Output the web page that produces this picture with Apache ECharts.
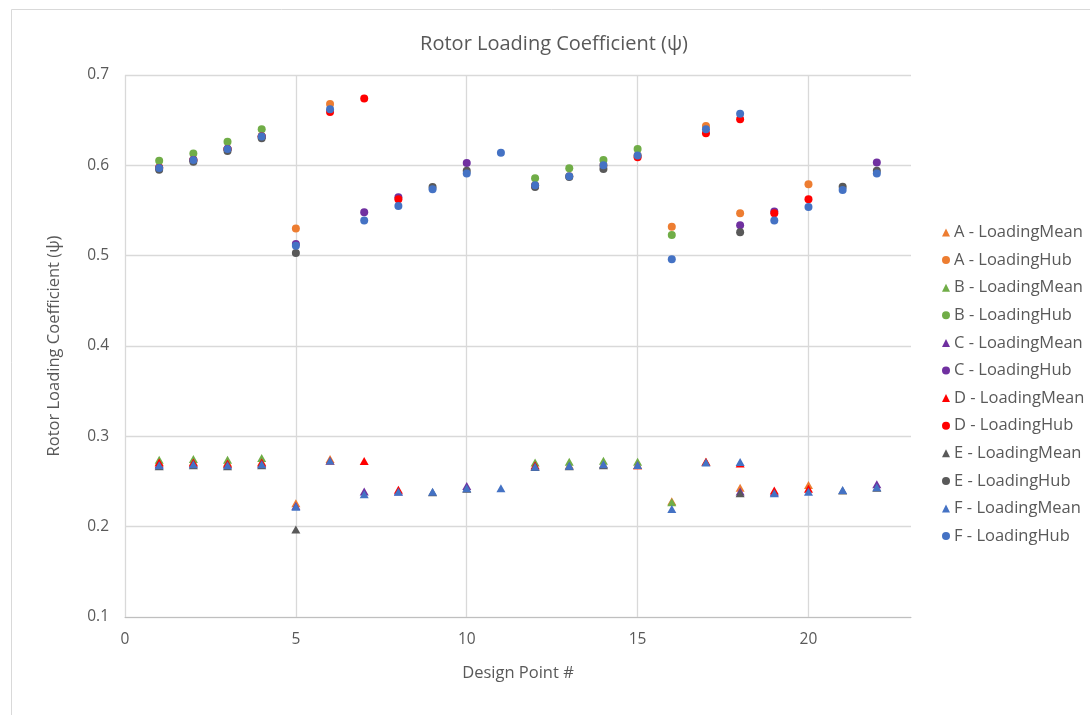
<!DOCTYPE html>
<html>
<head>
<meta charset="utf-8">
<script src="https://cdn.jsdelivr.net/npm/echarts@6/dist/echarts.min.js"></script>
<style>html,body{margin:0;padding:0;background:#fff;}#c{width:1090px;height:715px;}</style>
</head>
<body>
<div id="c"></div>
<script>
const designPoints = [1,2,3,4,5,6,7,8,9,10,11,12,13,14,15,16,17,18,19,20,21,22];
const xTicks = [0,5,10,15,20];
const yTicks = [0.1,0.2,0.3,0.4,0.5,0.6,0.7];

const aMean = [0.272,0.272,0.271,0.272,0.226,0.275,null,null,null,null,null,0.267,0.268,0.269,0.268,0.228,0.272,0.243,null,0.246,null,null];
const aHub  = [0.598,0.606,0.618,0.632,0.530,0.668,null,null,null,null,null,0.578,0.588,0.600,0.611,0.532,0.6435,0.547,null,0.579,null,null];
const bMean = [0.274,0.275,0.274,0.276,null,null,null,null,null,null,null,0.271,0.272,0.273,0.272,0.227,null,null,null,null,null,null];
const bHub  = [0.605,0.613,0.626,0.640,null,null,null,null,null,null,null,0.5856,0.5967,0.606,0.618,0.523,null,null,null,null,null,null];
const cMean = [0.269,0.270,0.269,0.270,0.223,null,0.239,0.239,null,0.245,null,null,null,null,null,null,null,0.239,0.238,null,null,0.247];
const cHub  = [0.597,0.606,0.618,0.632,0.513,null,0.548,0.5646,null,0.6026,null,null,null,null,null,null,null,0.5336,0.549,null,null,0.603];
const dMean = [0.271,0.271,0.270,0.271,null,0.273,0.2727,0.241,null,null,null,0.268,null,null,0.268,null,0.272,0.270,0.240,0.242,null,null];
const dHub  = [0.597,0.606,0.618,0.632,null,0.659,0.674,0.5624,null,null,null,0.577,null,null,0.609,null,0.6355,0.651,0.547,0.5624,null,null];
const eMean = [0.267,0.268,0.267,0.268,0.197,null,null,null,0.238,0.242,null,0.266,0.267,0.268,null,null,null,0.237,null,null,0.240,0.243];
const eHub  = [0.595,0.604,0.616,0.630,0.503,null,null,null,0.576,0.594,null,0.576,0.587,0.596,null,null,null,0.526,null,null,0.5764,0.594];
const fMean = [0.268,0.269,0.268,0.269,0.222,0.273,0.236,0.2387,0.2387,0.2424,0.2424,0.2664,0.2675,0.269,0.2683,0.2195,0.271,0.2716,0.237,0.2387,0.2406,0.2435];
const fHub  = [0.597,0.606,0.618,0.632,0.511,0.662,0.539,0.555,0.5735,0.591,0.614,0.578,0.588,0.600,0.611,0.496,0.640,0.657,0.539,0.554,0.5727,0.591];

const seriesDefs = [
  {name:'A - LoadingMean', data:aMean, color:'#ED7D31', sym:'triangle'},
  {name:'A - LoadingHub',  data:aHub,  color:'#ED7D31', sym:'circle'},
  {name:'B - LoadingMean', data:bMean, color:'#70AD47', sym:'triangle'},
  {name:'B - LoadingHub',  data:bHub,  color:'#70AD47', sym:'circle'},
  {name:'C - LoadingMean', data:cMean, color:'#7030A0', sym:'triangle'},
  {name:'C - LoadingHub',  data:cHub,  color:'#7030A0', sym:'circle'},
  {name:'D - LoadingMean', data:dMean, color:'#FF0000', sym:'triangle'},
  {name:'D - LoadingHub',  data:dHub,  color:'#FF0000', sym:'circle'},
  {name:'E - LoadingMean', data:eMean, color:'#595959', sym:'triangle'},
  {name:'E - LoadingHub',  data:eHub,  color:'#595959', sym:'circle'},
  {name:'F - LoadingMean', data:fMean, color:'#4472C4', sym:'triangle'},
  {name:'F - LoadingHub',  data:fHub,  color:'#4472C4', sym:'circle'}
];

const FONT = '"Open Sans", "Liberation Sans", sans-serif';
const TXT = '#595959';

const series = seriesDefs.map(d => ({
  name: d.name,
  type: 'scatter',
  symbol: d.sym,
  symbolSize: d.sym === 'triangle' ? [9, 8] : 8,
  itemStyle: {color: d.color, opacity: 1},
  emphasis: {disabled: true},
  animation: false,
  data: designPoints.map((x, i) => d.data[i] == null ? null : [x, d.data[i]]).filter(p => p)
}));

const chart = echarts.init(document.getElementById('c'), null, {renderer: 'canvas'});
chart.setOption({
  animation: false,
  backgroundColor: '#ffffff',
  title: {
    text: 'Rotor Loading Coefficient (ψ)',
    left: 549, top: 29, textAlign: 'center',
    textStyle: {fontFamily: FONT, fontSize: 20, fontWeight: 'normal', color: TXT}
  },
  graphic: [{
    type: 'rect', left: 9, top: 7, silent: true,
    shape: {x: 0, y: 0, width: 1100, height: 720},
    style: {fill: 'none', stroke: '#D9D9D9', lineWidth: 1}
  }],
  grid: {left: 125, top: 75, right: 179, bottom: 98, containLabel: false},
  legend: {
    orient: 'vertical', left: 937, top: 219,
    itemWidth: 8, itemHeight: 8, itemGap: 10.6,
    textStyle: {fontFamily: FONT, fontSize: 16.5, color: TXT, padding: [0,0,0,-1]},
    data: seriesDefs.map(d => ({name: d.name, icon: d.sym === 'triangle' ? 'triangle' : 'circle'})),
    selectedMode: false
  },
  xAxis: {
    type: 'value', min: 0, max: 23, interval: 5,
    name: 'Design Point #', nameLocation: 'middle', nameGap: 48,
    nameTextStyle: {fontFamily: FONT, fontSize: 16.5, color: TXT},
    axisLine: {show: true, onZero: false, lineStyle: {color: '#BFBFBF', width: 1}},
    axisTick: {show: false},
    axisLabel: {fontFamily: FONT, fontSize: 15.5, color: TXT, margin: 15, showMaxLabel: false,
      formatter: v => xTicks.indexOf(v) >= 0 ? String(v) : ''},
    splitLine: {show: true, showMaxLine: false, lineStyle: {color: '#D9D9D9', width: 1.3}}
  },
  yAxis: {
    type: 'value', min: 0.1, max: 0.7, interval: 0.1,
    name: 'Rotor Loading Coefficient (ψ)', nameLocation: 'middle', nameGap: 62,
    nameTextStyle: {fontFamily: FONT, fontSize: 16.5, color: TXT},
    axisLine: {show: false},
    axisTick: {show: false},
    axisLabel: {fontFamily: FONT, fontSize: 15.5, color: TXT, margin: 16,
      formatter: v => { const t = yTicks.find(k => Math.abs(k - v) < 1e-9); return t != null ? t.toFixed(1) : ''; }},
    splitLine: {show: true, lineStyle: {color: '#D9D9D9', width: 1.3}}
  },
  series: series
});
</script>
</body>
</html>
